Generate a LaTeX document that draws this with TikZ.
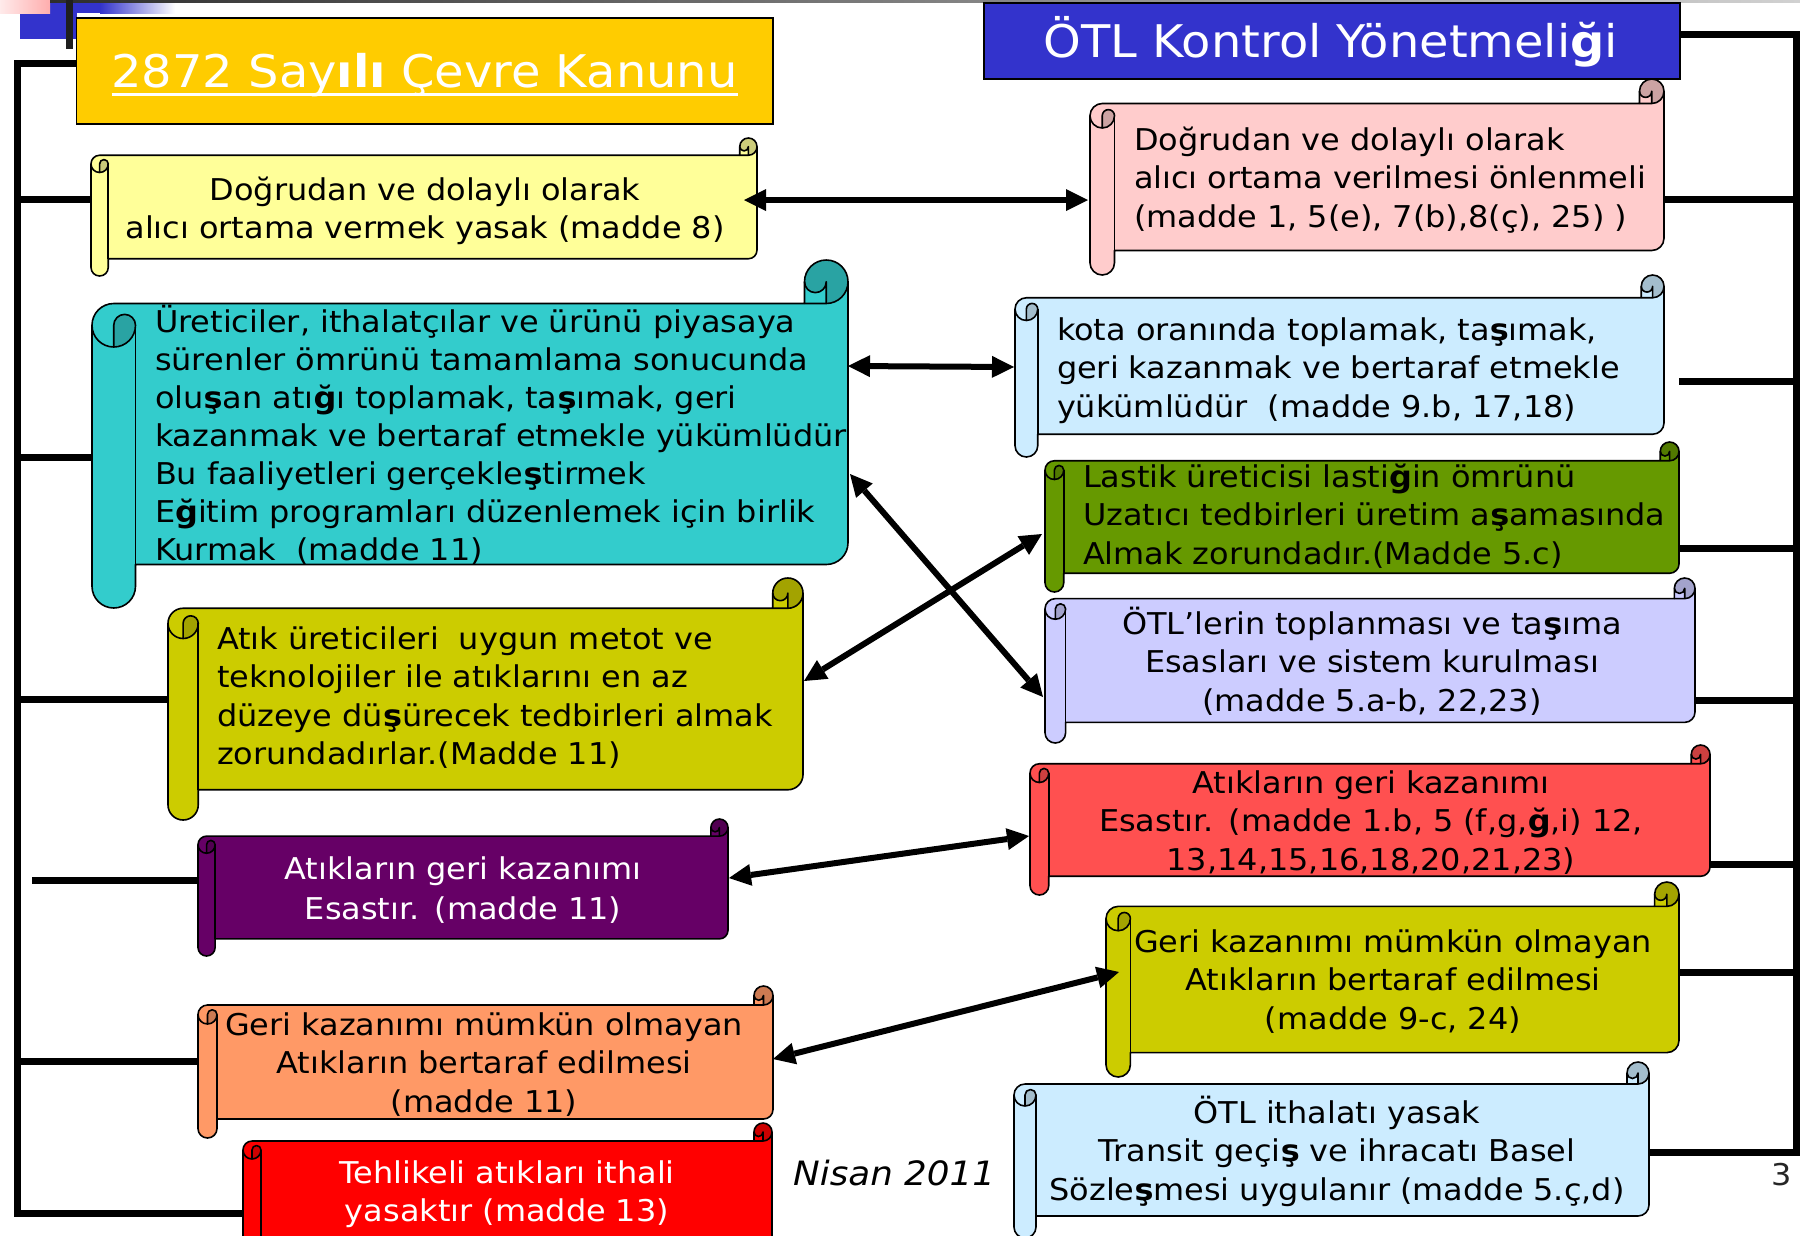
\documentclass[tikz,border=0pt]{standalone}
\usepackage{fontspec}
\setmainfont[FakeStretch=1.065,BoldFont={DejaVu Sans Bold},ItalicFont={DejaVu Sans Oblique}]{DejaVu Sans}
\usetikzlibrary{arrows.meta,calc}
\definecolor{cYel}{HTML}{FFFF99}\definecolor{cYelD}{HTML}{CCCC7A}
\definecolor{cPink}{HTML}{FFCCCC}\definecolor{cPinkD}{HTML}{CCA3A3}
\definecolor{cTeal}{HTML}{33CCCC}\definecolor{cTealD}{HTML}{29A3A3}
\definecolor{cLBlue}{HTML}{CCECFF}\definecolor{cLBlueD}{HTML}{A3BDCC}
\definecolor{cGreen}{HTML}{669900}\definecolor{cGreenD}{HTML}{527A00}
\definecolor{cLav}{HTML}{CCCCFF}\definecolor{cLavD}{HTML}{A3A3CC}
\definecolor{cOlive}{HTML}{CCCC00}\definecolor{cOliveD}{HTML}{A3A300}
\definecolor{cPurple}{HTML}{660066}\definecolor{cPurpleD}{HTML}{520052}
\definecolor{cRedP}{HTML}{FF5050}\definecolor{cRedPD}{HTML}{CC4040}
\definecolor{cOrange}{HTML}{FF9966}\definecolor{cOrangeD}{HTML}{CC7A52}
\definecolor{cRed}{HTML}{FF0000}\definecolor{cRedD}{HTML}{CC0000}
\definecolor{cTitleY}{HTML}{FFCC00}\definecolor{cTitleB}{HTML}{3333CC}
\newcommand\bsh{{\bfseries ş}}
\newcommand\bgh{{\bfseries ğ}}
% scroll: name, L, T, R, B (pixels, y downwards), fill, dark
\newcommand\scroll[7]{%
  \pgfmathsetmacro\scL{#2}%
  \pgfmathsetmacro\scR{#4}%
  \pgfmathsetmacro\scT{-(#3)}%
  \pgfmathsetmacro\scB{-(#5)}%
  \pgfmathsetmacro\scc{((#5)-(#3))/8}%
  \pgfmathsetmacro\sch{\scc/2}%
  \pgfmathsetmacro\scq{\scc/4}%
  \pgfmathsetmacro\scW{(#4)-(#2)}%
  \pgfmathsetmacro\scH{(#5)-(#3)}%
  \fill[#6] (\scL,\scT-1.5*\scc) arc[start angle=180,end angle=90,radius=\sch]
    -- (\scR-\scc,\scT-\scc) -- (\scR-\scc,\scT-\sch) arc[start angle=180,end angle=0,radius=\sch]
    -- (\scR,\scB+1.5*\scc) arc[start angle=0,end angle=-90,radius=\sch]
    -- (\scL+\scc,\scB+\scc) -- (\scL+\scc,\scB+\sch) arc[start angle=0,end angle=-180,radius=\sch] -- cycle;
  \fill[#7] (\scR-\sch,\scT-\scc) arc[start angle=-90,end angle=180,radius=\sch]
    arc[start angle=180,end angle=360,radius=\scq] -- cycle;
  \fill[#7] (\scL+\sch,\scT-2*\scc) arc[start angle=-90,end angle=0,radius=\sch]
    arc[start angle=0,end angle=180,radius=\scq] -- cycle;
  \draw[scrollline] (\scL,\scT-1.5*\scc) arc[start angle=180,end angle=90,radius=\sch]
    -- (\scR-\scc,\scT-\scc) -- (\scR-\scc,\scT-\sch) arc[start angle=180,end angle=0,radius=\sch]
    -- (\scR,\scB+1.5*\scc) arc[start angle=0,end angle=-90,radius=\sch]
    -- (\scL+\scc,\scB+\scc) -- (\scL+\scc,\scB+\sch) arc[start angle=0,end angle=-180,radius=\sch] -- cycle;
  \draw[scrollline] (\scR-\scc,\scT-\scc) -- (\scR-\sch,\scT-\scc) arc[start angle=-90,end angle=0,radius=\sch];
  \draw[scrollline] (\scR-\sch,\scT-\scc) -- (\scR-\sch,\scT-\sch) arc[start angle=0,end angle=-180,radius=\scq];
  \draw[scrollline] (\scL+\sch,\scT-2*\scc) -- (\scL+\sch,\scT-1.5*\scc)
    arc[start angle=180,end angle=0,radius=\scq] arc[start angle=0,end angle=-180,radius=\sch];
  \draw[scrollline] (\scL+\scc,\scT-1.5*\scc) -- (\scL+\scc,\scB+\scc);
  \node[inner sep=0,outer sep=0,minimum width=\scW pt,minimum height=\scH pt] (#1) at ({(#2+#4)/2},{-(#3+#5)/2}) {};
}
\begin{document}
\begin{tikzpicture}[x=1pt,y=1pt,
  scrollline/.style={draw=black,line width=1.6,line join=round},
  bus/.style={draw=black,line width=7,line join=miter},
  dbl/.style={draw=black,line width=6,{Triangle[length=22pt,width=22pt,line width=0pt]}-{Triangle[length=22pt,width=22pt,line width=0pt]}},
  txt/.style={inner sep=0,outer sep=0,text width=760pt,font=\fontsize{30}{38.5}\selectfont},
  txtl/.style={txt,align=left,anchor=base west},
  txtc/.style={txt,align=center,anchor=base},
  titlebox/.style={draw=black,line width=1.5,inner sep=0,outer sep=0},
  titletext/.style={inner sep=0,outer sep=0,anchor=base,text=white,font=\fontsize{45}{50}\selectfont}]
\useasboundingbox (0,-1235) rectangle (1800,0);
\clip (0,-1235) rectangle (1800,0);
\fill[white] (0,-1235) rectangle (1800,0);
% slide decoration
\fill[cTitleB] (20,0) rectangle (77,-39);
\shade[left color=cTitleB,right color=white] (100,0) rectangle (175,-13);
\fill[cTitleB] (77,0) rectangle (100.5,-13);
\shade[left color=red!8,right color=red!32] (0,0) rectangle (50,-13);
\shade[left color=black!82,right color=black!18] (50,0) rectangle (1800,-2.5);
\fill[black!88] (66,0) rectangle (73,-49);
% title boxes
\node[titlebox,fill=cTitleY,minimum width=696.5pt,minimum height=106pt] (tA) at (424.75,-71) {};
\node[titlebox,fill=cTitleB,minimum width=696pt,minimum height=76pt] (tB) at (1332,-41) {};
% buses
\coordinate (lbT) at (17,-63.5);
\coordinate (lbB) at (17,-1213);
\draw[bus] (lbT -| tA.west) -- (lbT) -- (lbB) -- (lbB -| 243,0);
\coordinate (rbT) at (1796,-34);
\coordinate (rbB) at (1796,-1152);
\draw[bus] (rbT -| tB.east) -- (rbT) -- (rbB) -- (rbB -| 1649,0);
% scrolls
\scroll{yel1}{91}{138}{757}{276}{cYel}{cYelD}
\scroll{pink}{1090}{79}{1664}{275}{cPink}{cPinkD}
\scroll{teal}{92}{260}{848}{608}{cTeal}{cTealD}
\scroll{lblue1}{1015}{275}{1664}{457}{cLBlue}{cLBlueD}
\scroll{green}{1045}{442}{1679}{592}{cGreen}{cGreenD}
\scroll{lav}{1045}{578}{1695}{743}{cLav}{cLavD}
\scroll{olive}{168}{578}{803}{820}{cOlive}{cOliveD}
\scroll{purple}{198}{819}{728}{956}{cPurple}{cPurpleD}
\scroll{redp}{1030}{745}{1710}{895}{cRedP}{cRedPD}
\scroll{olive2}{1106}{882}{1679}{1077}{cOlive}{cOliveD}
\scroll{orange}{198}{986}{773}{1138}{cOrange}{cOrangeD}
\scroll{red}{243}{1123}{772}{1267}{cRed}{cRedD}
\scroll{lblue2}{1014}{1062}{1649}{1238}{cLBlue}{cLBlueD}
% branches left
\coordinate (lb1) at (17,-199);  \draw[bus] (lb1) -- (lb1 -| yel1.west);
\coordinate (lb2) at (17,-457);  \draw[bus] (lb2) -- (lb2 -| teal.west);
\coordinate (lb3) at (17,-699);  \draw[bus] (lb3) -- (lb3 -| olive.west);
\coordinate (lb4) at (32,-880);  \draw[bus] (lb4) -- (lb4 -| purple.west);
\coordinate (lb5) at (17,-1061); \draw[bus] (lb5) -- (lb5 -| orange.west);
% branches right
\coordinate (rb1) at (1796,-199); \draw[bus] (rb1) -- (rb1 -| pink.east);
\coordinate (rb2) at (1796,-381); \coordinate (rb2e) at (1679,-381); \draw[bus] (rb2) -- (rb2e);
\coordinate (rb3) at (1796,-548); \draw[bus] (rb3) -- (rb3 -| green.east);
\coordinate (rb4) at (1796,-700); \draw[bus] (rb4) -- (rb4 -| lav.east);
\coordinate (rb5) at (1796,-864); \draw[bus] (rb5) -- (rb5 -| redp.east);
\coordinate (rb6) at (1796,-972); \draw[bus] (rb6) -- (rb6 -| olive2.east);
% titles text
\node[titletext] (tA-t) at (424.5,-87) {2872 Say\textbf{ılı} Çevre Kanunu};
\draw[white,line width=3] ([yshift=-7]tA-t.base west) -- ([yshift=-7]tA-t.base east);
\node[titletext] (tB-t) at (1331,-57) {ÖTL Kontrol Yönetmeli\textbf{ğ}i};
% texts
\node[txtc] (yel1-t) at (425,-200) {Doğrudan ve dolaylı olarak\\alıcı ortama vermek yasak (madde 8)};
\node[txtl] (pink-t) at (1134,-150) {Doğrudan ve dolaylı olarak\\alıcı ortama verilmesi önlenmeli\\(madde 1, 5(e), 7(b),8(ç), 25) )};
\node[txtl,font=\fontsize{30}{38}\selectfont] (teal-t) at (155,-332) {Üreticiler, ithalatçılar ve ürünü piyasaya\\sürenler ömrünü tamamlama sonucunda\\olu\bsh an atı\bgh ı toplamak, ta\bsh ımak, geri\\kazanmak ve bertaraf etmekle yükümlüdür\\Bu faaliyetleri gerçekle\bsh tirmek\\E\bgh itim programları düzenlemek için birlik\\Kurmak\ \ (madde 11)};
\node[txtl] (lblue1-t) at (1057,-340) {kota oranında toplamak, ta\bsh ımak,\\geri kazanmak ve bertaraf etmekle\\yükümlüdür\ \ (madde 9.b, 17,18)};
\node[txtl] (green-t) at (1083,-487) {Lastik üreticisi lasti\bgh in ömrünü\\Uzatıcı tedbirleri üretim a\bsh amasında\\Almak zorundadır.(Madde 5.c)};
\node[txtc] (lav-t) at (1372,-634) {ÖTL’lerin toplanması ve ta\bsh ıma\\Esasları ve sistem kurulması\\(madde 5.a-b, 22,23)};
\node[txtl] (olive-t) at (217,-649) {Atık üreticileri\ \ uygun metot ve\\teknolojiler ile atıklarını en az\\düzeye dü\bsh ürecek tedbirleri almak\\zorundadırlar.(Madde 11)};
\node[txtc,text=white,font=\fontsize{30}{40}\selectfont] (purple-t) at (463,-879) {Atıkların geri kazanımı\\Esastır. (madde 11)};
\node[txtc] (redp-t) at (1371,-793) {Atıkların geri kazanımı\\Esastır. (madde 1.b, 5 (f,g,\bgh,i) 12,\\13,14,15,16,18,20,21,23)};
\node[txtc] (olive2-t) at (1393,-952) {Geri kazanımı mümkün olmayan\\Atıkların bertaraf edilmesi\\(madde 9-c, 24)};
\node[txtc] (lblue2-t) at (1337,-1123) {ÖTL ithalatı yasak\\Transit geçi\bsh{} ve ihracatı Basel\\Sözle\bsh mesi uygulanır (madde 5.ç,d)};
\node[txtc] (orange-t) at (484,-1035) {Geri kazanımı mümkün olmayan\\Atıkların bertaraf edilmesi\\(madde 11)};
\node[txtc,text=white] (red-t) at (507,-1183) {Tehlikeli atıkları ithali\\yasaktır (madde 13)};
\node[inner sep=0,anchor=base west,font=\itshape\fontsize{33.5}{38}\selectfont] (date) at (793,-1185) {Nisan 2011};
\node[inner sep=0,anchor=base,font=\fontsize{30}{36}\selectfont,text=black!85] (pnum) at (1782,-1185) {3};
% arrows
\draw[dbl] ($(yel1.east)+(-13,7)$) -- ($(pink.west)+(-2,-23)$);
\draw[dbl] ($(teal.east)+(0,68)$) -- ($(lblue1.west)+(-1,-1)$);
\draw[dbl] ($(teal.east)+(2,-40)$) -- ($(lav.west)+(-2,-36.5)$);
\draw[dbl] ($(olive.east)+(1,18)$) -- ($(green.west)+(-3,-17)$);
\draw[dbl] ($(purple.east)+(1,9.5)$) -- ($(redp.west)+(-1,-16)$);
\draw[dbl] ($(orange.east)+(0,3)$) -- ($(olive2.west)+(13,7.5)$);
\end{tikzpicture}
\end{document}
